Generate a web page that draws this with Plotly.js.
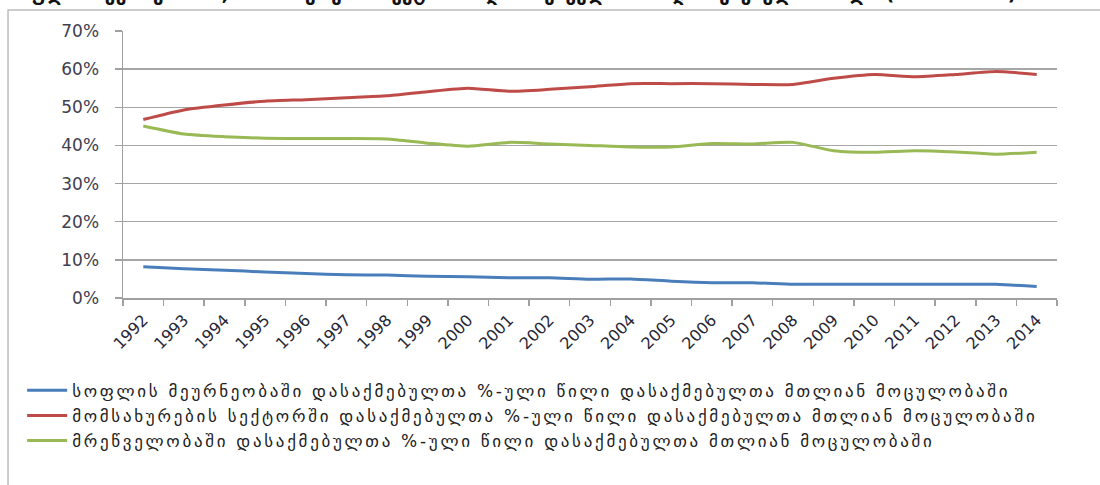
<!DOCTYPE html>
<html>
<head>
<meta charset="utf-8">
<script src="https://cdn.plot.ly/plotly-3.0.1.min.js"></script>
<style>
html,body{margin:0;padding:0;background:#fff;}
#chart{width:1100px;height:485px;}
.legendtext{letter-spacing:2.7px;}
</style>
</head>
<body>
<div id="chart"></div>
<script>
const years = ["1992","1993","1994","1995","1996","1997","1998","1999","2000","2001","2002","2003","2004","2005","2006","2007","2008","2009","2010","2011","2012","2013","2014"];
const agriculture = [8.2,7.7,7.3,6.8,6.4,6.1,6.0,5.7,5.6,5.3,5.3,4.9,5.0,4.4,4.0,4.0,3.6,3.6,3.6,3.6,3.6,3.6,3.0];
const services = [46.8,49.3,50.6,51.6,52.0,52.5,53.0,54.1,55.0,54.2,54.7,55.4,56.2,56.2,56.2,56.0,56.0,57.6,58.6,58.0,58.6,59.4,58.6];
const industry = [45.1,43.0,42.3,41.9,41.8,41.8,41.7,40.6,39.8,40.8,40.4,40.0,39.6,39.6,40.5,40.4,40.8,38.6,38.2,38.6,38.3,37.7,38.2];
const seriesNames = [
  "სოფლის მეურნეობაში დასაქმებულთა %-ული წილი დასაქმებულთა მთლიან მოცულობაში",
  "მომსახურების სექტორში დასაქმებულთა %-ული წილი დასაქმებულთა მთლიან მოცულობაში",
  "მრეწველობაში დასაქმებულთა %-ული წილი დასაქმებულთა მთლიან მოცულობაში"
];
const yTickVals = [0,10,20,30,40,50,60,70];
const yTickText = ["0%","10%","20%","30%","40%","50%","60%","70%"];
const titleText = "სოფლის მეურნეობაში, მომსახურების სექტორში და მრეწველობაში დასაქმებულთა წილი (1992-2014)";

const colors = ["#4a7ebb","#be4b48","#98b954"];
const vals = [agriculture, services, industry];
const traces = vals.map((v,i)=>({
  x: years, y: v, name: seriesNames[i], type: "scatter", mode: "lines",
  line: {color: colors[i], width: 3, shape: "spline", smoothing: 0.6},
  hoverinfo: "skip"
}));

const font = "DejaVu Sans, Noto Sans, sans-serif";
const layout = {
  width: 1100, height: 485,
  margin: {l: 123, r: 43, t: 31, b: 187},
  paper_bgcolor: "#ffffff", plot_bgcolor: "#ffffff",
  showlegend: true,
  legend: {
    orientation: "v", x: -0.108, xanchor: "left", y: -0.28, yanchor: "top",
    font: {family: font, size: 17, color: "#222222"},
    tracegroupgap: 0, itemwidth: 40, bgcolor: "rgba(0,0,0,0)"
  },
  xaxis: {
    type: "category", tickangle: -45, ticks: "outside", tickson: "boundaries",
    ticklen: 6, tickcolor: "#a0a0a0", tickwidth: 1.5,
    showline: true, linecolor: "#a0a0a0", linewidth: 1.5,
    showgrid: false, zeroline: false,
    tickfont: {family: font, size: 16, color: "#262636"},
    ticklabelstandoff: 5,
    range: [-0.5, 22.5]
  },
  yaxis: {
    range: [0, 70], tickvals: yTickVals, ticktext: yTickText,
    ticks: "outside", ticklen: 7, tickcolor: "#a0a0a0", tickwidth: 1.5,
    showline: true, linecolor: "#a0a0a0", linewidth: 1.5,
    showgrid: true, gridcolor: "#a6a6a6", gridwidth: 1.5, zeroline: false,
    tickfont: {family: font, size: 17, color: "#404050"},
    ticklabelstandoff: 12
  },
  shapes: [{
    type: "rect", xref: "paper", yref: "paper",
    x0: -0.1231, x1: 1.06, y0: -0.75, y1: 1.0787,
    line: {color: "#bcbcbc", width: 1.5}, fillcolor: "rgba(0,0,0,0)", layer: "below"
  }],
  annotations: [{
    text: "<b>" + titleText + "</b>", xref: "paper", yref: "paper",
    x: -0.131, xanchor: "left", y: 1.139, yanchor: "middle", showarrow: false,
    font: {family: font, size: 19, color: "#111111"}
  }]
};
Plotly.newPlot("chart", traces, layout, {staticPlot: true});
</script>
</body>
</html>
